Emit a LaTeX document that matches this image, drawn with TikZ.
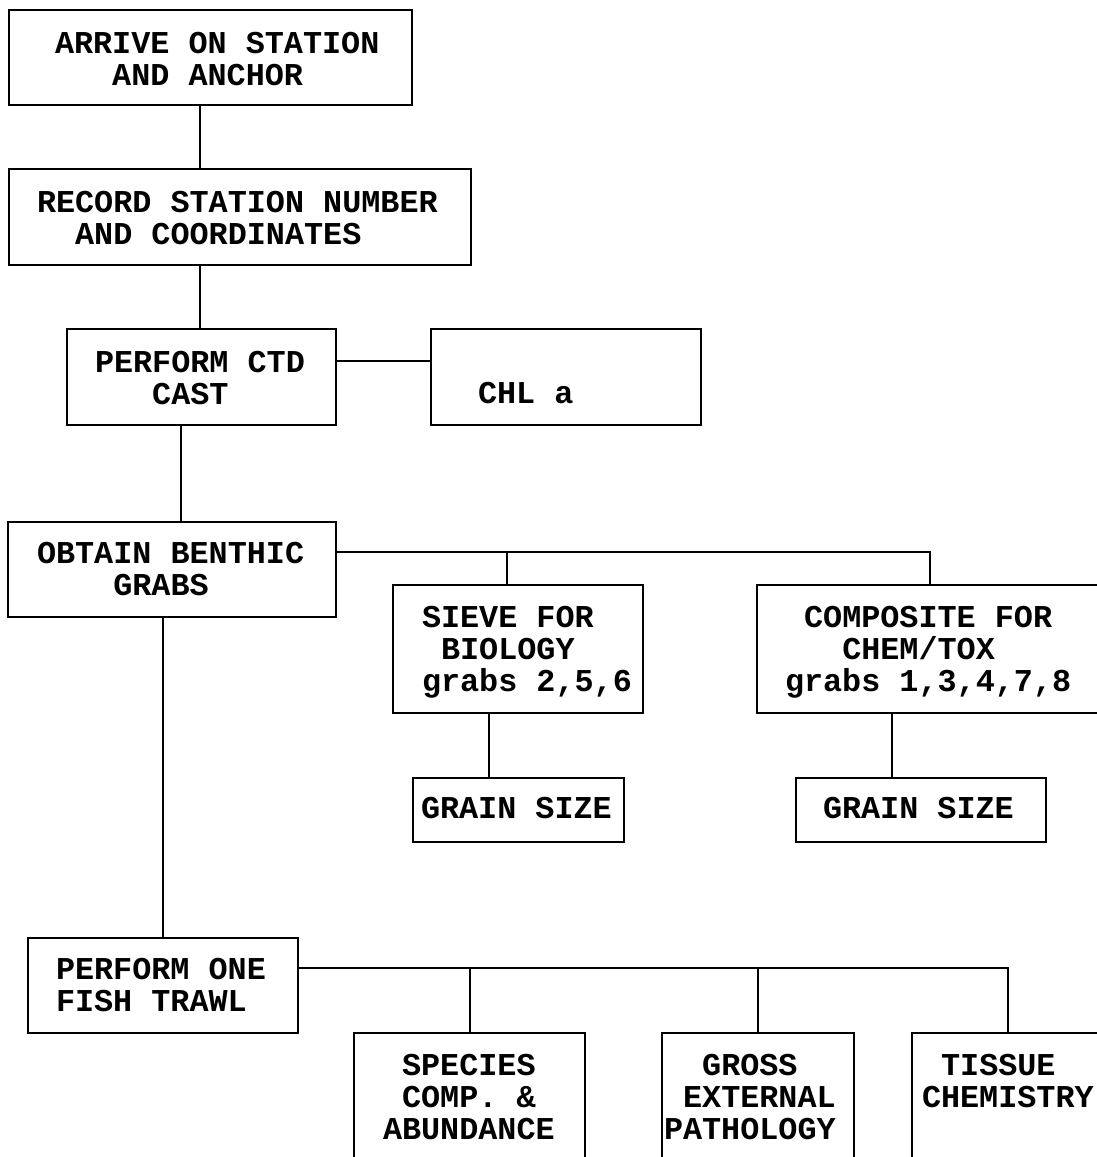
\documentclass[tikz,border=0pt]{standalone}
\usepackage{fontspec}
\setmonofont{Liberation Mono}
\begin{document}
\begin{tikzpicture}[x=1pt,y=-1pt,line width=2pt,
  box/.style={draw,anchor=north west,inner sep=0pt},
  txt/.style={anchor=base west,align=left,inner sep=0pt,
    font=\ttfamily\bfseries\fontsize{31.8}{32}\selectfont}]

\useasboundingbox (0,0) rectangle (1097,1157);
\clip (0,0) rectangle (1097,1157);

%station boxes
\node[box,minimum width=403,minimum height=95] (arrive) at (8,9) {};
\node[txt] (arrivetxt) at (54,85) {ARRIVE ON STATION\\\phantom{XXX}AND ANCHOR};

\node[box,minimum width=462,minimum height=96] (record) at (8,168) {};
\node[txt] (recordtxt) at (36,244) {RECORD STATION NUMBER\\\phantom{XX}AND COORDINATES};

% ctd cast and chlorophyll
\node[box,minimum width=269,minimum height=96] (ctd) at (66,328) {};
\node[txt] (ctdtxt) at (94,404) {PERFORM CTD\\\phantom{XXX}CAST};

\node[box,minimum width=270,minimum height=96] (chl) at (430,328) {};
\node[txt] (chltxt) at (477,403) {CHL a};

% benthic grabs
\node[box,minimum width=328,minimum height=95] (benthic) at (7,521) {};
\node[txt] (benthictxt) at (36,595) {OBTAIN BENTHIC\\\phantom{XXXX}GRABS};

\node[box,minimum width=250,minimum height=128] (sieve) at (392,584) {};
\node[txt] (sievetxt) at (421,691) {SIEVE FOR\\\phantom{X}BIOLOGY\\grabs 2,5,6};

\node[box,minimum width=346,minimum height=128] (composite) at (756,584) {};
\node[txt] (compositetxt) at (784,691) {\phantom{X}COMPOSITE FOR\\\phantom{XXX}CHEM/TOX\\grabs 1,3,4,7,8};

\node[box,minimum width=211,minimum height=64] (grainA) at (412,777) {};
\node[txt] (grainAtxt) at (420,818) {GRAIN SIZE};

\node[box,minimum width=250,minimum height=64] (grainB) at (795,777) {};
\node[txt] (grainBtxt) at (822,818) {GRAIN SIZE};

% fish trawl
\node[box,minimum width=270,minimum height=95] (trawl) at (27,937) {};
\node[txt] (trawltxt) at (55,1011) {PERFORM ONE\\FISH TRAWL};

\node[box,minimum width=231,minimum height=160] (species) at (353,1032) {};
\node[txt] (speciestxt) at (382,1139) {\phantom{X}SPECIES\\\phantom{X}COMP. \&\\ABUNDANCE};

\node[box,minimum width=192,minimum height=160] (gross) at (661,1032) {};
\node[txt] (grosstxt) at (663,1139) {\phantom{XX}GROSS\\\phantom{X}EXTERNAL\\PATHOLOGY};

\node[box,minimum width=192,minimum height=160] (tissue) at (911,1032) {};
\node[txt] (tissuetxt) at (921,1107) {\phantom{X}TISSUE\\CHEMISTRY};

% connectors
\draw (arrive.south -| 200,0) -- (record.north -| 200,0);
\draw (record.south -| 200,0) -- (ctd.north -| 200,0);
\draw (ctd.east |- 0,361) -- (chl.west |- 0,361);
\draw (ctd.south -| 181,0) -- (benthic.north -| 181,0);

\coordinate (benthicbus) at (benthic.east |- 0,552);
\draw (benthicbus) -| (composite.north);
\draw (benthicbus) -| (sieve.north -| 507,0);
\draw (sieve.south -| 489,0) -- (grainA.north -| 489,0);
\draw (composite.south -| 892,0) -- (grainB.north -| 892,0);

\draw (benthic.south -| trawl.north) -- (trawl.north);
\coordinate (trawlbus) at (trawl.east |- 0,968);
\draw (trawlbus) -| (species.north);
\draw (trawlbus) -| (gross.north);
\draw (trawlbus) -| (tissue.north);

\end{tikzpicture}
\end{document}
